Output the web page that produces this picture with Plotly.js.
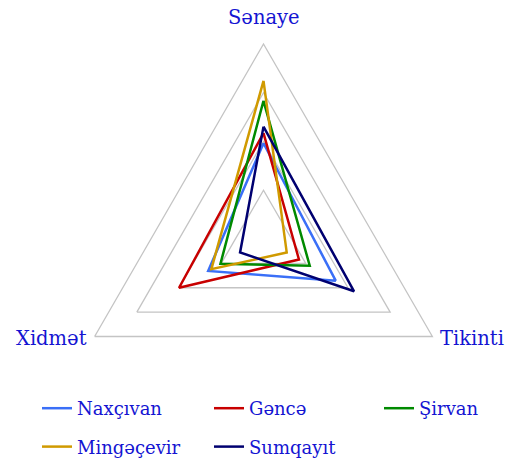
<!DOCTYPE html>
<html>
<head>
<meta charset="utf-8">
<script src="https://cdn.plot.ly/plotly-3.0.1.min.js"></script>
<style>html,body{margin:0;padding:0;background:#fff;}#chart{width:507px;height:466px;}</style>
</head>
<body>
<div id="chart"></div>
<script>
const categories = ["Sənaye", "Tikinti", "Xidmət"];
const regions = ["Naxçıvan", "Gəncə", "Şirvan", "Mingəçevir", "Sumqayıt"];
const naxcivan = [39.3, 34.2, 26.2];
const gence = [43.4, 16.8, 40.0];
const sirvan = [56.7, 21.9, 20.4];
const mingecevir = [64.9, 11.0, 24.7];
const sumqayit = [46.1, 42.9, 11.1];
const radialTicks = [20, 40, 60, 80];

const seriesValues = [naxcivan, gence, sirvan, mingecevir, sumqayit];
const colors = ["#3a6ff7", "#c80000", "#008a00", "#d09a00", "#000070"];
const legendIds = ["legend", "legend2", "legend3", "legend", "legend2"];
const textColor = "#1414d2";
const fontFamily = "DejaVu Serif";
const axisFontSize = 19.5;
const legendFontSize = 18;

const W = 507, H = 466, MB = 12;
const Hp = H - MB;
const fx = x => x / W;
const fy = y => 1 - y / Hp;
const cx = 263.5, cy = 239, R = 195;

const traces = seriesValues.map((vals, i) => ({
  type: "scatterpolar",
  mode: "lines",
  name: regions[i],
  legend: legendIds[i],
  legendgroup: "g" + i,
  r: vals.concat([vals[0]]),
  theta: categories.concat([categories[0]]),
  line: {color: colors[i], width: 2.5},
  hoverinfo: "skip"
}));

function legendAt(xpx, ytop) {
  return {
    orientation: "v",
    x: fx(xpx), y: fy(ytop), xanchor: "left", yanchor: "top",
    font: {family: fontFamily, size: legendFontSize, color: textColor},
    itemwidth: 30,
    tracegroupgap: 12,
    bgcolor: "rgba(0,0,0,0)"
  };
}

const labelPos = [
  {x: 263.5, y: 18, xanchor: "center"},
  {x: 438, y: 338, xanchor: "left"},
  {x: 89, y: 338, xanchor: "right"}
];
const annotations = categories.map((c, i) => ({
  text: c,
  xref: "paper", yref: "paper",
  x: fx(labelPos[i].x), y: fy(labelPos[i].y),
  xanchor: labelPos[i].xanchor, yanchor: "middle",
  showarrow: false,
  font: {family: fontFamily, size: axisFontSize, color: textColor}
}));

const layout = {
  width: W, height: H,
  margin: {l: 0, r: 0, t: 0, b: MB},
  paper_bgcolor: "#ffffff",
  plot_bgcolor: "#ffffff",
  font: {family: fontFamily, color: textColor, size: legendFontSize},
  showlegend: true,
  legend: legendAt(37, 390),
  legend2: legendAt(209, 390),
  legend3: legendAt(379, 390),
  annotations: annotations,
  polar: {
    domain: {
      x: [(cx - R) / W, (cx + R) / W],
      y: [(Hp - cy - R) / Hp, (Hp - cy + R) / Hp]
    },
    gridshape: "linear",
    bgcolor: "#ffffff",
    radialaxis: {
      range: [0, 80],
      tickvals: radialTicks,
      showticklabels: false,
      ticks: "",
      showline: false,
      gridcolor: "#c4c4c4",
      gridwidth: 1.3,
      angle: 90
    },
    angularaxis: {
      direction: "clockwise",
      rotation: 90,
      showgrid: false,
      showline: true,
      linecolor: "#c4c4c4",
      linewidth: 1.3,
      ticks: "",
      showticklabels: false
    }
  }
};

Plotly.newPlot("chart", traces, layout, {staticPlot: true, displayModeBar: false});
</script>
</body>
</html>
